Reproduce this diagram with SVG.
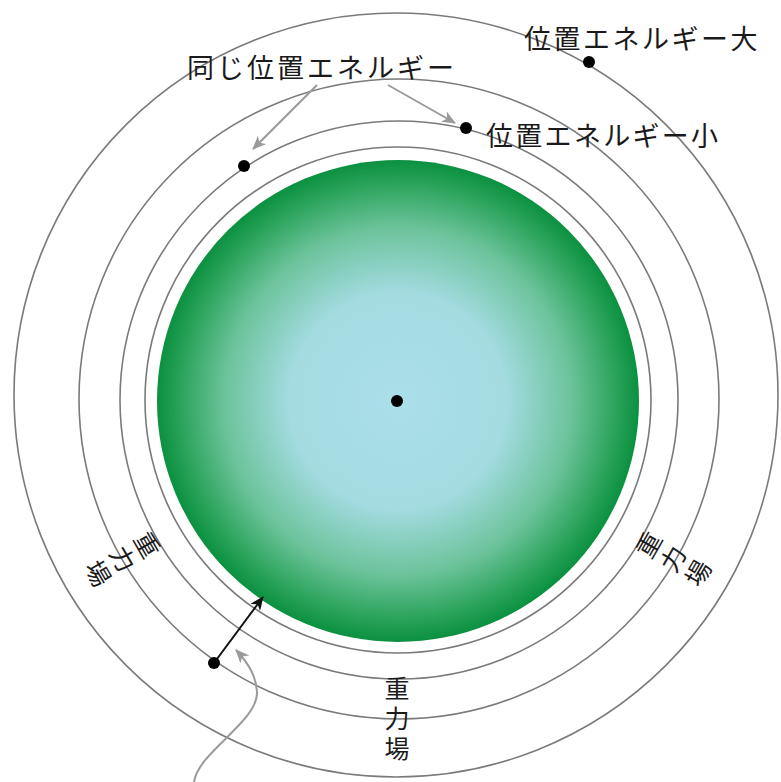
<svg xmlns="http://www.w3.org/2000/svg" width="781" height="782" viewBox="0 0 781 782">
  <style>
    .ring { fill: none; stroke: #7a7a7a; stroke-width: 1.6; }
    .dot { fill: #000; }
    .lbl { font-family: "Noto Sans CJK JP", "Noto Sans", sans-serif; font-size: 27px; fill: #1a1a1a; }
    .field { font-family: "Noto Sans CJK JP", "Noto Sans", sans-serif; font-size: 25px; fill: #1a1a1a; text-anchor: middle; dominant-baseline: central; }
    .pointer { fill: none; stroke: #9a9a9a; stroke-width: 2; }
    .force { fill: none; stroke: #111; stroke-width: 2; }
  </style>
  <defs>
    <radialGradient id="planetFill" cx="50%" cy="50%" r="50%">
      <stop offset="0" stop-color="#abdfea"/>
      <stop offset="0.45" stop-color="#a3dbe1"/>
      <stop offset="0.72" stop-color="#6cc39b"/>
      <stop offset="0.9" stop-color="#2ca45c"/>
      <stop offset="1" stop-color="#0b9040"/>
    </radialGradient>
    <marker id="greyHead" viewBox="0 0 14 12" refX="13" refY="6" markerWidth="14" markerHeight="12" markerUnits="userSpaceOnUse" orient="auto">
      <path d="M0,0 L14,6 L0,12 L4,6 Z" fill="#9a9a9a"/>
    </marker>
    <marker id="blackHead" viewBox="0 0 14 12" refX="13" refY="6" markerWidth="14" markerHeight="12" markerUnits="userSpaceOnUse" orient="auto">
      <path d="M0,0 L14,6 L0,12 L4,6 Z" fill="#111"/>
    </marker>
  </defs>

  <rect width="781" height="782" fill="#fff"/>

  <!-- planet -->
  <g id="planet">
    <circle cx="398" cy="401" r="241" fill="url(#planetFill)"/>
  </g>

  <!-- equipotential rings -->
  <g id="rings">
    <circle class="ring" cx="398" cy="400" r="253"/>
    <circle class="ring" cx="399" cy="400" r="279"/>
    <circle class="ring" cx="399" cy="399" r="320"/>
    <circle class="ring" cx="396" cy="395" r="382"/>
  </g>

  <!-- connectors -->
  <g id="connectors">
    <line class="pointer" x1="317" y1="85" x2="253" y2="149" marker-end="url(#greyHead)"/>
    <line class="pointer" x1="388" y1="85" x2="455" y2="123" marker-end="url(#greyHead)"/>
    <path class="pointer" d="M194,782 C198,752 258,722 257,692 C256,676 249,664 236,650" marker-end="url(#greyHead)"/>
    <line class="force" x1="214" y1="663" x2="263" y2="597" marker-end="url(#blackHead)"/>
  </g>

  <!-- points -->
  <g id="points">
    <circle id="center" class="dot" cx="397" cy="401" r="6"/>
    <circle id="same-left" class="dot" cx="244" cy="166" r="6"/>
    <circle id="low" class="dot" cx="466" cy="128" r="6"/>
    <circle id="high" class="dot" cx="589" cy="62" r="6"/>
    <circle id="test-mass" class="dot" cx="214" cy="663" r="6"/>
  </g>

  <!-- labels -->
  <g id="label-same">
    <text class="lbl" x="187" y="66.5" dominant-baseline="central" letter-spacing="3">同じ位置エネルギー</text>
  </g>
  <g id="label-high">
    <text class="lbl" x="524" y="37.5" dominant-baseline="central" letter-spacing="2.5">位置エネルギー大</text>
  </g>
  <g id="label-low">
    <text class="lbl" x="486" y="134.5" dominant-baseline="central" letter-spacing="2.3">位置エネルギー小</text>
  </g>

  <!-- field labels: one glyph per line, rotated about the planet centre -->
  <g id="field-bottom">
    <text class="field" x="397" y="687">重</text>
    <text class="field" x="397" y="717">力</text>
    <text class="field" x="397" y="747">場</text>
  </g>
  <g id="field-left" transform="rotate(60 398 400)">
    <text class="field" x="398" y="688">重</text>
    <text class="field" x="398" y="716">力</text>
    <text class="field" x="398" y="745">場</text>
  </g>
  <g id="field-right" transform="rotate(-60 398 400)">
    <text class="field" x="398" y="688">重</text>
    <text class="field" x="398" y="716">力</text>
    <text class="field" x="398" y="745">場</text>
  </g>
</svg>
